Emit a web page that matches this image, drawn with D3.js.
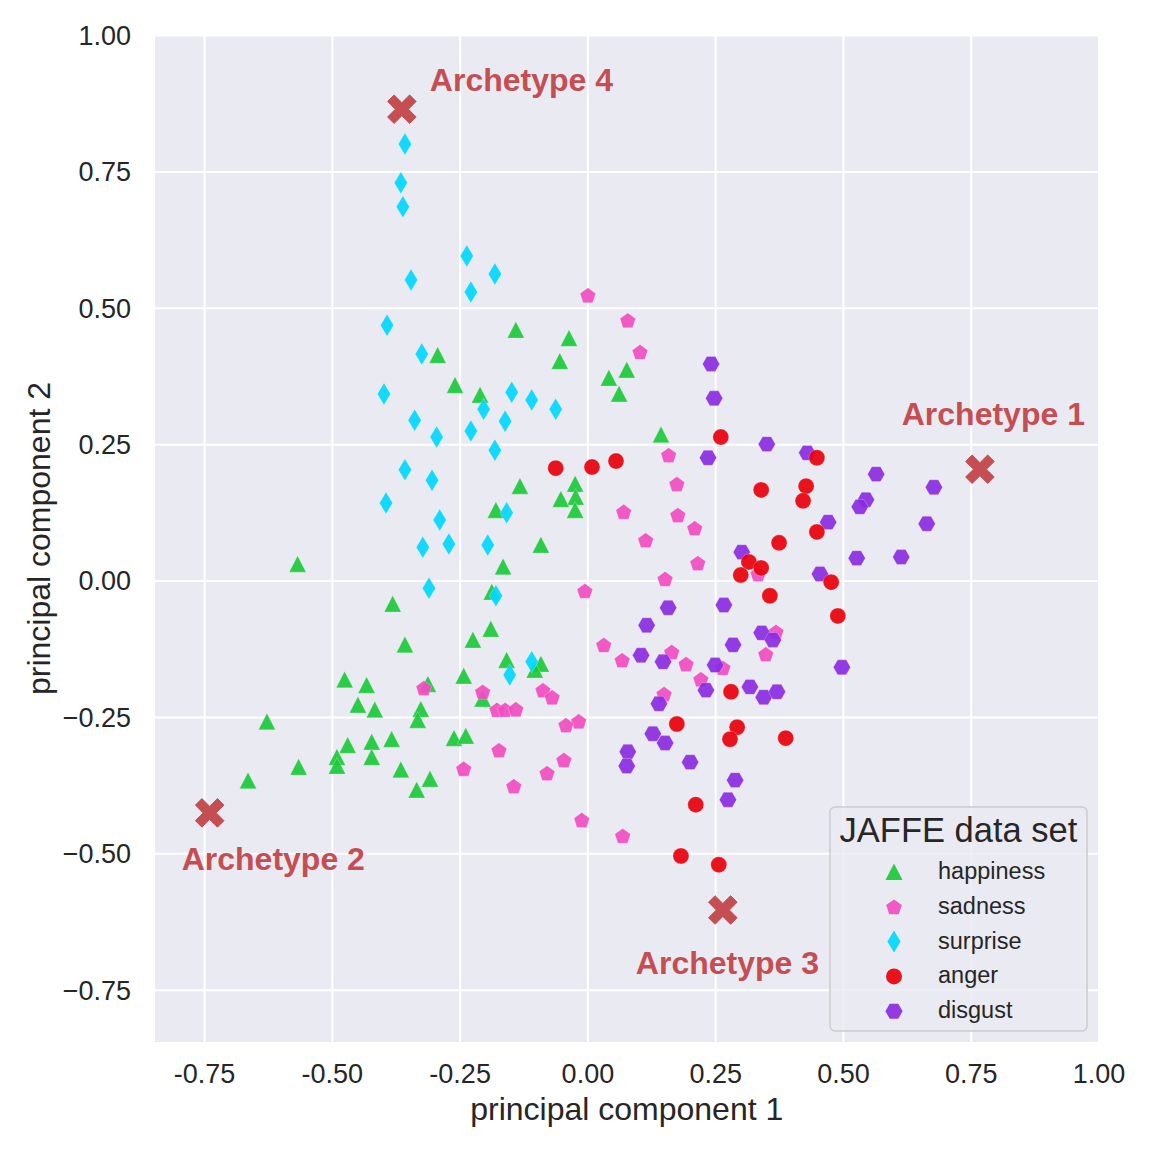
<!DOCTYPE html>
<html><head><meta charset="utf-8">
<script src="https://cdn.jsdelivr.net/npm/d3@7"></script>
<style>body{margin:0;background:#fff} svg{display:block}</style>
</head><body>
<svg id="c" width="1152" height="1152"></svg>
<script>
// ---- data (principal component 1, principal component 2) ----
const happiness = [
 [-0.567,0.030],[-0.381,-0.043],[-0.357,-0.118],[-0.475,-0.182],[-0.432,-0.192],[-0.449,-0.228],
 [-0.416,-0.237],[-0.312,-0.190],[-0.326,-0.236],[-0.242,-0.175],[-0.224,-0.109],[-0.627,-0.259],
 [-0.664,-0.367],[-0.565,-0.342],[-0.490,-0.324],[-0.490,-0.340],[-0.469,-0.302],[-0.422,-0.296],
 [-0.422,-0.324],[-0.383,-0.291],[-0.365,-0.347],[-0.334,-0.384],[-0.308,-0.364],[-0.261,-0.289],
 [-0.238,-0.285],[-0.332,-0.256],[-0.293,0.413],[-0.259,0.358],[-0.140,0.459],[-0.036,0.444],
 [-0.054,0.402],[0.042,0.371],[0.077,0.386],[0.062,0.342],[0.144,0.267],[-0.210,0.340],
 [-0.132,0.173],[-0.024,0.177],[-0.052,0.149],[-0.023,0.153],[-0.024,0.129],[-0.179,0.129],
 [-0.091,0.065],[-0.165,0.025],[-0.187,-0.021],[-0.189,-0.089],[-0.158,-0.146],[-0.091,-0.153],
 [-0.103,-0.164],[-0.205,-0.217]
];
const sadness = [
 [0.001,0.523],[0.079,0.477],[0.103,0.419],[-0.320,-0.197],[-0.242,-0.345],[0.159,0.230],
 [0.175,0.177],[0.071,0.126],[0.177,0.120],[0.210,0.096],[0.114,0.074],[0.216,0.032],
 [0.152,0.003],[-0.005,-0.019],[0.334,0.012],[0.369,-0.094],[0.349,-0.135],[0.032,-0.118],
 [0.068,-0.146],[0.165,-0.131],[0.193,-0.153],[0.265,-0.160],[0.222,-0.181],[0.150,-0.208],
 [-0.205,-0.204],[-0.087,-0.201],[-0.069,-0.214],[-0.177,-0.237],[-0.161,-0.237],[-0.140,-0.236],
 [-0.017,-0.258],[-0.042,-0.265],[-0.046,-0.329],[-0.079,-0.353],[-0.173,-0.311],[-0.144,-0.377],
 [-0.011,-0.439],[0.069,-0.468]
];
const surprise = [
 [-0.357,0.800],[-0.365,0.729],[-0.361,0.685],[-0.236,0.595],[-0.345,0.551],[-0.228,0.529],
 [-0.392,0.468],[-0.324,0.415],[-0.181,0.562],[-0.398,0.342],[-0.338,0.294],[-0.295,0.263],
 [-0.228,0.274],[-0.357,0.203],[-0.304,0.184],[-0.394,0.142],[-0.289,0.111],[-0.322,0.061],
 [-0.271,0.067],[-0.310,-0.014],[-0.148,0.345],[-0.109,0.331],[-0.062,0.314],[-0.203,0.314],
 [-0.161,0.292],[-0.181,0.239],[-0.158,0.124],[-0.195,0.065],[-0.179,-0.028],[-0.109,-0.149],
 [-0.152,-0.173]
];
const anger = [
 [0.261,0.263],[-0.062,0.206],[0.009,0.208],[0.056,0.219],[0.340,0.166],[0.375,0.069],
 [0.316,0.034],[0.340,0.023],[0.300,0.010],[0.357,-0.028],[0.281,-0.204],[0.449,0.225],
 [0.428,0.173],[0.422,0.146],[0.449,0.089],[0.477,-0.003],[0.490,-0.065],[0.175,-0.263],
 [0.293,-0.269],[0.279,-0.291],[0.388,-0.289],[0.212,-0.411],[0.183,-0.505],[0.257,-0.521]
];
const disgust = [
 [0.242,0.397],[0.248,0.334],[0.351,0.250],[0.236,0.225],[0.302,0.052],[0.158,-0.050],
 [0.267,-0.045],[0.116,-0.082],[0.341,-0.096],[0.363,-0.109],[0.285,-0.118],[0.105,-0.137],
 [0.148,-0.149],[0.250,-0.155],[0.318,-0.195],[0.345,-0.214],[0.371,-0.204],[0.232,-0.201],
 [0.140,-0.226],[0.430,0.234],[0.565,0.195],[0.678,0.171],[0.545,0.148],[0.533,0.135],
 [0.471,0.107],[0.664,0.104],[0.527,0.041],[0.614,0.043],[0.455,0.012],[0.498,-0.159],
 [0.128,-0.281],[0.152,-0.298],[0.079,-0.314],[0.077,-0.340],[0.201,-0.333],[0.289,-0.366],
 [0.275,-0.402]
];
const archetypes = [[0.768,0.204],[-0.739,-0.426],[0.265,-0.604],[-0.363,0.864]];
const archetypeLabels = ["Archetype 1","Archetype 2","Archetype 3","Archetype 4"];
const categories = ["happiness","sadness","surprise","anger","disgust"];
const xTicks = [-0.75,-0.5,-0.25,0,0.25,0.5,0.75,1.0];
const yTicks = [-0.75,-0.5,-0.25,0,0.25,0.5,0.75,1.0];
const legendTitle = "JAFFE data set";

// ---- styles ----
const seriesData = {happiness, sadness, surprise, anger, disgust};
const colors = {happiness:"#1ac938", sadness:"#f14cc1", surprise:"#00d7ff", anger:"#e8000b", disgust:"#8b2be2"};
const shapes = {happiness:"tri", sadness:"pent", surprise:"thin", anger:"circle", disgust:"hex"};
const drawOrder = ["happiness","sadness","surprise","disgust","anger"];
const FONT = "Arial, 'Liberation Sans', Helvetica, sans-serif";
const TXT = "#262626";
const ARCH = "#c44e52";

const L = 155, R = 1098.5, T = 35, B = 1042;
const x = d3.scaleLinear().domain([-0.846, 1.0]).range([L, R]);
const y = d3.scaleLinear().domain([-0.846, 1.0]).range([B, T]);

function poly(pts){ return "M" + pts.map(p => p[0].toFixed(2)+","+p[1].toFixed(2)).join("L") + "Z"; }
function shapePath(kind){
  if (kind === "tri") return poly([[0,-8.5],[-8.5,8],[8.5,8]]);
  if (kind === "pent") { const r=8.2, p=[]; for(let i=0;i<5;i++){const a=-Math.PI/2+i*2*Math.PI/5; p.push([r*Math.cos(a), r*Math.sin(a)+0.8]);} return poly(p); }
  if (kind === "thin") return poly([[0,-11],[6.6,0],[0,11],[-6.6,0]]);
  if (kind === "hex") { const r=8.6, p=[]; for(let i=0;i<6;i++){const a=i*Math.PI/3; p.push([r*Math.cos(a), r*Math.sin(a)]);} return poly(p); }
  if (kind === "circle") return "M8,0A8,8 0 1,1 -8,0A8,8 0 1,1 8,0Z";
  if (kind === "X") {
    const a=4.6, b=15.6, base=[[a,a],[b,a],[b,-a],[a,-a],[a,-b],[-a,-b],[-a,-a],[-b,-a],[-b,a],[-a,a],[-a,b],[a,b]];
    const c=Math.SQRT1_2; return poly(base.map(([u,v])=>[(u-v)*c,(u+v)*c]));
  }
}

const svg = d3.select("#c");
svg.append("rect").attr("x",0).attr("y",0).attr("width",1152).attr("height",1152).attr("fill","#fff");
svg.append("rect").attr("x",L).attr("y",T).attr("width",R-L).attr("height",B-T).attr("fill","#EAEAF2");

// grid
const gx = svg.append("g").attr("transform",`translate(0,${B})`)
  .call(d3.axisBottom(x).tickValues(xTicks).tickSize(-(B-T)).tickFormat(""));
gx.select(".domain").remove();
gx.selectAll("line").attr("stroke","#fff").attr("stroke-width",2);
const gy = svg.append("g").attr("transform",`translate(${L},0)`)
  .call(d3.axisLeft(y).tickValues(yTicks).tickSize(-(R-L)).tickFormat(""));
gy.select(".domain").remove();
gy.selectAll("line").attr("stroke","#fff").attr("stroke-width",2);

// tick labels
const fmtHy = v => d3.format(".2f")(v).replace("\u2212","-");
const fmtMinus = v => d3.format(".2f")(v);
const ax = svg.append("g").attr("transform",`translate(0,${B})`)
  .call(d3.axisBottom(x).tickValues(xTicks).tickSize(0).tickPadding(22).tickFormat(fmtHy));
ax.select(".domain").remove();
ax.selectAll("text").attr("font-family",FONT).attr("font-size",27).attr("fill",TXT);
const ay = svg.append("g").attr("transform",`translate(${L},0)`)
  .call(d3.axisLeft(y).tickValues(yTicks).tickSize(0).tickPadding(24).tickFormat(fmtMinus));
ay.select(".domain").remove();
ay.selectAll("text").attr("font-family",FONT).attr("font-size",27).attr("fill",TXT).attr("dy","0.35em");

// axis titles
svg.append("text").attr("x",(L+R)/2).attr("y",1120).attr("text-anchor","middle")
  .attr("font-family",FONT).attr("font-size",32).attr("fill",TXT).text("principal component 1");
svg.append("text").attr("transform",`translate(50,${(T+B)/2}) rotate(-90)`).attr("text-anchor","middle")
  .attr("font-family",FONT).attr("font-size",32).attr("fill",TXT).text("principal component 2");

// points
const plot = svg.append("g");
drawOrder.forEach(cat => {
  plot.append("g").selectAll("path").data(seriesData[cat]).join("path")
    .attr("d", shapePath(shapes[cat]))
    .attr("transform", d => `translate(${x(d[0])},${y(d[1])})`)
    .attr("fill", colors[cat]).attr("fill-opacity",0.92)
    .attr("stroke","#fff").attr("stroke-opacity",0.35).attr("stroke-width",0.7);
});

// archetypes
plot.append("g").selectAll("path").data(archetypes).join("path")
  .attr("d", shapePath("X"))
  .attr("transform", d => `translate(${x(d[0])},${y(d[1])})`)
  .attr("fill", ARCH).attr("stroke",ARCH).attr("stroke-width",1).attr("stroke-linejoin","round");
const labelOffsets = [[105,-56,"end"],[-28,46,"start"],[-87,53,"start"],[28,-30,"start"]];
svg.append("g").selectAll("text").data(archetypes).join("text")
  .attr("x",(d,i)=>x(d[0])+labelOffsets[i][0])
  .attr("y",(d,i)=>y(d[1])+labelOffsets[i][1]+11.5)
  .attr("text-anchor",(d,i)=>labelOffsets[i][2])
  .attr("font-family",FONT).attr("font-size",32).attr("font-weight","bold").attr("fill",ARCH)
  .text((d,i)=>archetypeLabels[i]);

// legend
const lg = svg.append("g");
lg.append("rect").attr("x",830).attr("y",807).attr("width",257).attr("height",224).attr("rx",5)
  .attr("fill","#EAEAF2").attr("fill-opacity",0.8).attr("stroke","#cccccc").attr("stroke-width",1.5);
lg.append("text").attr("x",958.5).attr("y",841.5).attr("text-anchor","middle")
  .attr("font-family",FONT).attr("font-size",34.5).attr("fill",TXT).text(legendTitle);
categories.forEach((cat,i) => {
  const yy = 872 + i*34.8;
  lg.append("path").attr("d",shapePath(shapes[cat])).attr("transform",`translate(894,${yy})`)
    .attr("fill",colors[cat]).attr("fill-opacity",0.92);
  lg.append("text").attr("x",938).attr("y",yy+7).attr("font-family",FONT).attr("font-size",23.5)
    .attr("fill",TXT).text(cat);
});
</script>
</body></html>
